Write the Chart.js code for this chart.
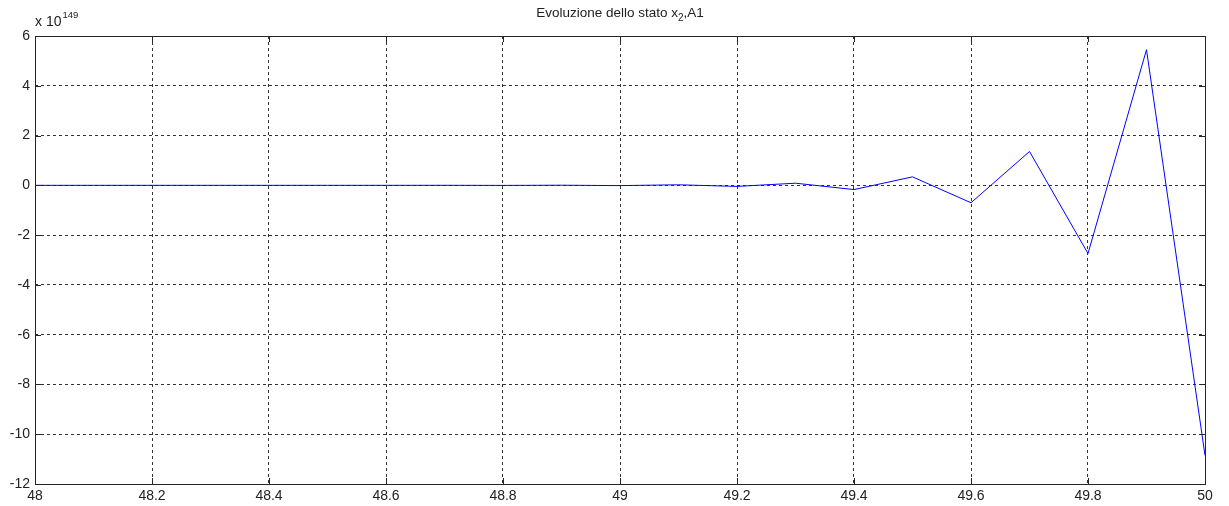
<!DOCTYPE html>
<html>
<head>
<meta charset="utf-8">
<script src="https://cdn.jsdelivr.net/npm/chart.js@4"></script>
<style>
    html, body { margin: 0; padding: 0; background: #fff; }
    #wrap { width: 1229px; height: 506px; position: relative; }
</style>
</head>
<body>
<div id="wrap"><canvas id="chart-state"></canvas></div>

<script>
    // time samples and state x2 (in units of 1e149)
    const times = [48.0, 48.1, 48.2, 48.3, 48.4, 48.5, 48.6, 48.7, 48.8, 48.9, 49.0,
                   49.1, 49.2, 49.3, 49.4, 49.5, 49.6, 49.7, 49.8, 49.9, 50.0];
    const stateX2 = [0, 0, 0, 0, 0, 0, 0, 0.001, -0.003, 0.005, -0.011,
                     0.021, -0.043, 0.085, -0.17, 0.34, -0.70, 1.36, -2.74, 5.45, -10.85];
    const xTicks = [48, 48.2, 48.4, 48.6, 48.8, 49, 49.2, 49.4, 49.6, 49.8, 50];
    const yTicks = [-12, -10, -8, -6, -4, -2, 0, 2, 4, 6];
    const titleMain = 'Evoluzione dello stato x';
    const titleSub = '2';
    const titleTail = ',A1';
    const expBase = 'x 10';
    const expPower = '149';

    const FONT = 'Arial, "Liberation Sans", sans-serif';

    // box, inward ticks, title and exponent label
    const matlabFrame = {
        id: 'matlabFrame',
        afterDraw(chart) {
            const ctx = chart.ctx;
            const a = chart.chartArea;
            const sx = chart.scales.x, sy = chart.scales.y;
            ctx.save();
            ctx.strokeStyle = '#262626';
            ctx.lineWidth = 1;
            ctx.setLineDash([]);
            ctx.strokeRect(Math.round(a.left) + 0.5, Math.round(a.top) + 0.5,
                           Math.round(a.right - a.left), Math.round(a.bottom - a.top));
            ctx.beginPath();
            xTicks.forEach(v => {
                const px = Math.round(sx.getPixelForValue(v)) + 0.5;
                ctx.moveTo(px, a.bottom); ctx.lineTo(px, a.bottom - 6);
                ctx.moveTo(px, a.top); ctx.lineTo(px, a.top + 6);
            });
            yTicks.forEach(v => {
                const py = Math.round(sy.getPixelForValue(v)) + 0.5;
                ctx.moveTo(a.left, py); ctx.lineTo(a.left + 6, py);
                ctx.moveTo(a.right, py); ctx.lineTo(a.right - 6, py);
            });
            ctx.stroke();

            // title with subscript
            ctx.fillStyle = '#222';
            ctx.textBaseline = 'alphabetic';
            ctx.font = '13.5px ' + FONT;
            const wMain = ctx.measureText(titleMain).width;
            const wTail = ctx.measureText(titleTail).width;
            ctx.font = '10px ' + FONT;
            const wSub = ctx.measureText(titleSub).width;
            let tx = (a.left + a.right) / 2 - (wMain + wSub + wTail) / 2;
            ctx.font = '13.5px ' + FONT;
            ctx.textAlign = 'left';
            ctx.fillText(titleMain, tx, 17);
            tx += wMain;
            ctx.font = '10px ' + FONT;
            ctx.fillText(titleSub, tx, 21);
            tx += wSub;
            ctx.font = '13.5px ' + FONT;
            ctx.fillText(titleTail, tx, 17);

            // exponent above the y axis
            ctx.font = '14px ' + FONT;
            ctx.fillText(expBase, a.left, 26);
            const wBase = ctx.measureText(expBase).width;
            ctx.font = '9.5px ' + FONT;
            ctx.fillText(expPower, a.left + wBase + 1, 18);
            ctx.restore();
        }
    };

    const dataState = {
        datasets: [{
            data: times.map((t, i) => ({ x: t, y: stateX2[i] })),
            borderColor: '#0000ff',
            borderWidth: 1,
            pointRadius: 0,
            tension: 0,
            fill: false
        }]
    };

    const gridStyle = {
        color: '#333',
        lineWidth: 1,
        drawTicks: false
    };

    const configState = {
        type: 'line',
        data: dataState,
        options: {
            responsive: true,
            maintainAspectRatio: false,
            animation: false,
            layout: {
                padding: { top: 36, right: 24, left: 0, bottom: 0 }
            },
            plugins: {
                legend: { display: false },
                tooltip: { enabled: false },
                title: { display: false }
            },
            scales: {
                x: {
                    type: 'linear',
                    min: 48,
                    max: 50,
                    afterBuildTicks: s => { s.ticks = xTicks.map(v => ({ value: v })); },
                    afterFit: s => { s.height = 22; },
                    grid: gridStyle,
                    border: { display: false, dash: [3, 3] },
                    ticks: {
                        color: '#222',
                        padding: 4,
                        maxRotation: 0,
                        font: { family: FONT, size: 14 },
                        callback: v => String(Math.round(v * 10) / 10)
                    }
                },
                y: {
                    min: -12,
                    max: 6,
                    afterBuildTicks: s => { s.ticks = yTicks.map(v => ({ value: v })); },
                    afterFit: s => { s.width = 35; },
                    grid: gridStyle,
                    border: { display: false, dash: [3, 3] },
                    ticks: {
                        color: '#222',
                        padding: 5,
                        font: { family: FONT, size: 14 }
                    }
                }
            }
        },
        plugins: [matlabFrame]
    };

    var chartState = new Chart(
        document.getElementById('chart-state'),
        configState
    );
</script>
</body>
</html>
